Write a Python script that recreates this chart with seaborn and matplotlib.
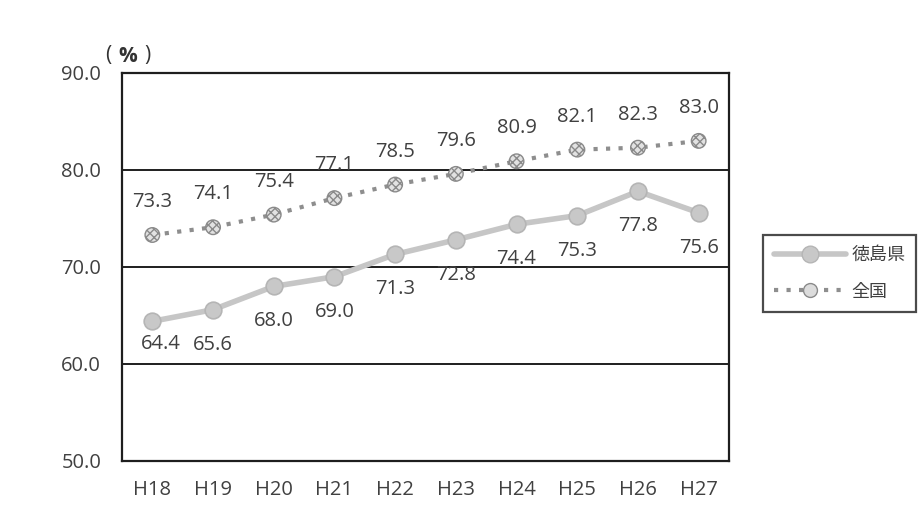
import matplotlib
matplotlib.use("Agg")
import matplotlib.pyplot as plt
import seaborn as sns
import pandas as pd
from matplotlib.lines import Line2D

years = ["H18", "H19", "H20", "H21", "H22", "H23", "H24", "H25", "H26", "H27"]
tokushima = [64.4, 65.6, 68.0, 69.0, 71.3, 72.8, 74.4, 75.3, 77.8, 75.6]
national = [73.3, 74.1, 75.4, 77.1, 78.5, 79.6, 80.9, 82.1, 82.3, 83.0]
series_names = ["徳島県", "全国"]
y_ticks = [50.0, 60.0, 70.0, 80.0, 90.0]

sns.set_theme(style="white")
plt.rcParams["font.family"] = ["Open Sans", "Noto Sans CJK JP", "DejaVu Sans"]

df = pd.DataFrame({
    "x": list(range(len(years))) * 2,
    "value": tokushima + national,
    "series": [series_names[0]] * len(years) + [series_names[1]] * len(years),
})
tok = df[df.series == series_names[0]]
nat = df[df.series == series_names[1]]

fig = plt.figure(figsize=(9.23, 5.28), dpi=100)
ax = fig.add_axes([122 / 923, 1 - 461 / 528, (729 - 122) / 923, (461 - 73) / 528])

text_col = "#404040"
tok_col = "#c6c6c6"
nat_col = "#8e8e8e"

# 徳島県: solid light-grey line with round markers
sns.lineplot(data=tok, x="x", y="value", ax=ax, color=tok_col, linewidth=4,
             marker="o", markersize=12, markeredgecolor="#b5b5b5",
             markerfacecolor="#c8c8c8", markeredgewidth=1.2, legend=False,
             zorder=3)

# 全国: dotted line with speckled markers
sns.lineplot(data=nat, x="x", y="value", ax=ax, color=nat_col, linewidth=3,
             linestyle=(0, (1, 2.0)), legend=False, zorder=3)
sns.scatterplot(data=nat, x="x", y="value", ax=ax, s=110, color="#e2e2e2",
                edgecolor="#8a8a8a", linewidth=1.0, hatch="xxxx",
                legend=False, zorder=4)

# value labels
for i, v in enumerate(tokushima):
    dx, dy = (8, -23) if i == 0 else (0, -35)
    ax.annotate(f"{v:.1f}", (i, v), xytext=(dx, dy), textcoords="offset pixels",
                ha="center", va="center", fontsize=14.5, color=text_col,
                zorder=5)
for i, v in enumerate(national):
    ax.annotate(f"{v:.1f}", (i, v), xytext=(0, 33), textcoords="offset pixels",
                ha="center", va="center", fontsize=14.5, color=text_col,
                zorder=5)

ax.set_xlim(-0.5, len(years) - 0.5)
ax.set_ylim(50, 90)
ax.set_xticks(range(len(years)))
ax.set_xticklabels(years, fontsize=14.5, color=text_col)
ax.set_yticks(y_ticks)
ax.set_yticklabels([f"{t:.1f}" for t in y_ticks], fontsize=14.5, color=text_col)
ax.tick_params(axis="x", length=0, pad=14)
ax.tick_params(axis="y", length=0, pad=15)
ax.set_xlabel("")
ax.set_ylabel("")
for yv in y_ticks[1:-1]:
    ax.axhline(yv, color="#1e1e1e", linewidth=1.4, zorder=1)
for s in ax.spines.values():
    s.set_visible(True)
    s.set_color("#1e1e1e")
    s.set_linewidth(1.6)

# unit label
fig.text(108 / 923, 1 - 56 / 528, "(", fontsize=15, color="#333333",
         ha="center", va="center")
fig.text(128 / 923, 1 - 56 / 528, "%", fontsize=15, color="#333333",
         ha="center", va="center", fontweight="bold")
fig.text(147 / 923, 1 - 56 / 528, ")", fontsize=15, color="#333333",
         ha="center", va="center")

handles = [
    Line2D([], [], color=tok_col, linewidth=4, marker="o", markersize=12,
           markeredgecolor="#b5b5b5", markerfacecolor="#c8c8c8"),
    Line2D([], [], color=nat_col, linewidth=3, linestyle=(0, (1, 2.0)),
           marker="o", markersize=10, markeredgecolor="#8a8a8a",
           markerfacecolor="#dcdcdc"),
]
leg = fig.legend(handles, series_names, loc="upper left",
                 bbox_to_anchor=(763 / 923, 1 - 235 / 528),
                 frameon=True, fancybox=False, fontsize=13, handlelength=4.0,
                 labelspacing=1.05, borderpad=0.6, borderaxespad=0,
                 handletextpad=0.3, labelcolor=text_col)
leg.get_frame().set_edgecolor("#1e1e1e")
leg.get_frame().set_linewidth(1.6)

fig.savefig("out.png", dpi=100)
